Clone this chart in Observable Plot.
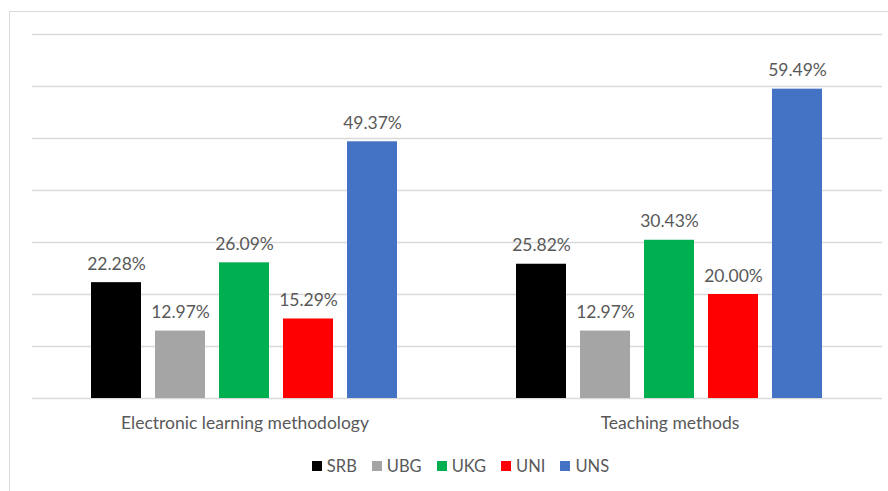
<!DOCTYPE html>
<html><head><meta charset="utf-8">
<script src="https://cdn.jsdelivr.net/npm/d3@7"></script>
<script src="https://cdn.jsdelivr.net/npm/@observablehq/plot@0.6"></script>
<style>
html,body{margin:0;padding:0;background:#fff;}
body{width:888px;height:491px;position:relative;overflow:hidden;font-family:Lato,"Open Sans",sans-serif;}
#frame{position:absolute;left:9px;top:11px;width:900px;height:500px;border:1px solid #d9d9d9;box-sizing:border-box;}
#chart{position:absolute;left:0;top:0;}
#legend{position:absolute;top:455px;left:0;width:921px;display:flex;justify-content:center;gap:15px;font-size:16.5px;color:#595959;line-height:22px;}
#legend .item{display:flex;align-items:center;gap:5px;}
#legend .sw{width:10px;height:10px;display:inline-block;}
</style></head>
<body>
<div id="frame"></div>
<div id="chart"></div>
<div id="legend"></div>
<script>
const categories = ["Electronic learning methodology", "Teaching methods"];
const universities = ["SRB", "UBG", "UKG", "UNI", "UNS"];
const elearningValues = [22.28, 12.97, 26.09, 15.29, 49.37];
const teachingValues = [25.82, 12.97, 30.43, 20.00, 59.49];
const colors = ["#000000", "#A5A5A5", "#00B050", "#FF0000", "#4472C4"];
const yTicks = [0, 10, 20, 30, 40, 50, 60, 70];

const seriesByCategory = [elearningValues, teachingValues];
const data = [];
categories.forEach((c, i) => universities.forEach((u, j) => data.push({category: c, uni: u, value: seriesByCategory[i][j]})));

const chart = Plot.plot({
  width: 888, height: 445,
  marginLeft: 32, marginRight: 6, marginTop: 34, marginBottom: 47,
  style: {fontFamily: "Lato, 'Open Sans', sans-serif", fontSize: "17.5px", color: "#595959", background: "transparent", overflow: "visible"},
  fx: {domain: categories, padding: 0, label: null, axis: "bottom", tickSize: 0, tickPadding: 18.5},
  x: {domain: universities, paddingInner: 0.215, paddingOuter: 0.877, axis: null},
  y: {domain: [0, 70], axis: null},
  color: {domain: universities, range: colors},
  marks: [
    Plot.ruleY(yTicks, {stroke: "#d9d9d9", strokeWidth: 1.3}),
    Plot.barY(data, {fx: "category", x: "uni", y: "value", fill: "uni"}),
    Plot.text(data, {fx: "category", x: "uni", y: "value", text: d => d.value.toFixed(2) + "%", lineAnchor: "bottom", dy: -13, fill: "#595959", fontSize: 17.5})
  ]
});
document.getElementById("chart").appendChild(chart);

const legend = document.getElementById("legend");
universities.forEach((u, i) => {
  const item = document.createElement("span");
  item.className = "item";
  const sw = document.createElement("span");
  sw.className = "sw";
  sw.style.background = colors[i];
  const t = document.createElement("span");
  t.textContent = u;
  item.appendChild(sw); item.appendChild(t);
  legend.appendChild(item);
});
</script>
</body></html>
